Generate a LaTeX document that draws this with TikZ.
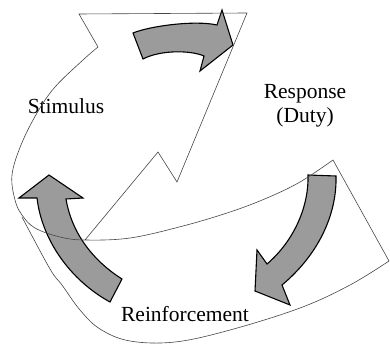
\documentclass[tikz,border=0pt]{standalone}
\usepackage{fontspec}
\setmainfont{Liberation Serif}
\definecolor{arrowgray}{RGB}{155,155,155}
\definecolor{outl}{RGB}{70,70,70}
\tikzset{
  garrow/.style={fill=arrowgray, draw=black, line width=1.1pt, line join=miter},
  outline/.style={draw=outl, line width=0.6pt, line join=miter},
  lbl/.style={font=\fontsize{21.5}{24}\selectfont, align=center, inner sep=0pt}
}
\begin{document}
\begin{tikzpicture}[x=1pt,y=-1pt]
\useasboundingbox (0,0) rectangle (390,344);
% gray arrows
\path[garrow] (133,33) .. controls (150,26) and (195,20) .. (217,25) -- (222,10) -- (233,45) -- (200,71) -- (204,56) .. controls (190,50) and (160,50) .. (143,59) -- cycle;
\path[garrow] (336,176) .. controls (337,215) and (318,255) .. (282,285) -- (290,305) -- (255,291) -- (257,250) -- (267,264) .. controls (295,240) and (309,205) .. (308,175) -- cycle;
\path[garrow] (37,198) .. controls (42,240) and (70,280) .. (110,302) -- (122,279) .. controls (95,262) and (72,235) .. (66,199) -- (83,198) -- (49,175) -- (19,198) -- cycle;
% labels
\node[lbl] (stim) at (66,106) {Stimulus};
\node[lbl] (resp) at (305,106) {Response\\(Duty)};
\node[lbl] (reinf) at (185,314) {Reinforcement};
% outline of the ribbon
\draw[outline] (85,240) -- (158,152) -- (177,182) -- (247,13) -- (79,14) -- (98,47)
  -- plot[smooth, tension=0.6] coordinates {(98,47) (83,60) (55,87) (37,113) (21,145) (12,175) (15,200) (22,215) (35,228) (60,237) (85,240) (130,238) (183,226) (230,212) (267,198) (300,182) (333,160)}
  -- (389,261);
\draw[outline] plot[smooth, tension=0.6] coordinates {(22,217) (50,269) (62,285) (80,310) (100,329) (130,341) (175,342) (230,330) (300,308) (350,285) (389,261)};
\end{tikzpicture}
\end{document}
